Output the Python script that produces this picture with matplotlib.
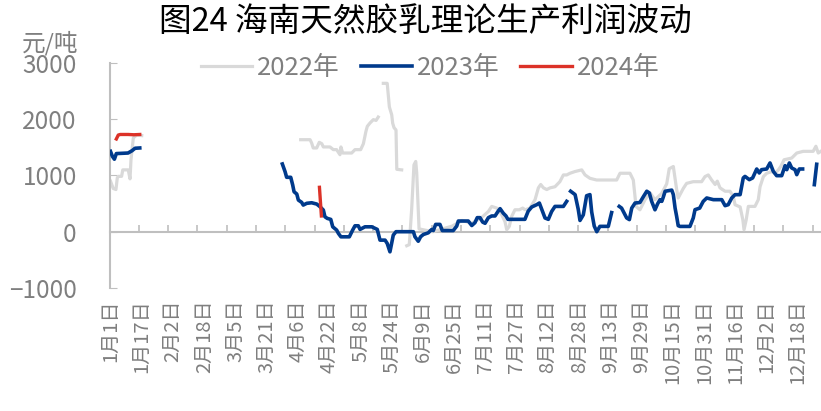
import numpy as np
import matplotlib
matplotlib.use("Agg")
import matplotlib.pyplot as plt

plt.rcParams['font.family'] = ['Noto Sans CJK SC', 'DejaVu Sans']

# x = day of year (0 = 1月1日), nan splits the line into pieces
nan = np.nan
days_2022 = [0, 1.4, 2.8, 3.5, 4, 5.7, 6.3, 9.1, 10, 10.5, 11.7, 13.4, 16, nan,
             97.4, 102.2, 103, 103.8, 105.6, 106.9, 108.2, 109, 112.4, 114.1, 115.8, 117.5, 118, 118.9,
             123.5, 125.2, 128.1, 129.5, 130.8, 131.5, 132.9, 134.6, 136, 137.1, nan,
             139.7, 141.7, 142.3, 142.8, 144, 144.5, 145.2, 146.2, 146.6, 149.1, nan,
             151.7, 153, 154.2, 155.4, 156.3, 156.8, 158, 165, 170, 175, 180, 185, 190,
             193.5, 195.2, 197.8, 199.5, 202, 202.9, 204.2, 205.4, 207.1, 209.3, 211.1, 212.3, 214.8,
             217.4, 219.1, 220.3, 221.7, 223.4, 225.1, 227.6, 230.1, 231.9, 233.6, 235.3, 237.8, 241.3,
             243, 245.5, 248.9, 259.2, 260.9, 266, 267.7, 269.1, 271.1, 273.7, 276.3, 278.8, 282.2,
             284.8, 286.1, 288.2, 289.9, 290.7, 293.3, 295, 298.4, 302.7, 304.4, 306.1, 307.8, 309.6,
             310.7, 312.1, 314.7, 317.2, 318.9, 319.8, 322.4, 323.8, 324.4, 325.5, 326.6, 330, 331.7,
             332.6, 334.3, 336, 338.6, 340.3, 342, 343.2, 344.9, 348.8, 351.4, 354.7, 359.8, 361.2,
             362.4, 363.7]
vals_2022 = [900, 770, 750, 960, 985, 985, 1100, 1100, 940, 1280, 1670, 1720, 1710, nan,
             1637, 1637, 1579, 1490, 1490, 1590, 1566, 1508, 1508, 1460, 1460, 1370, 1508, 1400,
             1400, 1460, 1460, 1566, 1785, 1874, 1935, 1994, 1980, 2040, nan,
             2640, 2640, 2400, 2220, 2080, 1930, 1850, 1810, 1110, 1100, nan,
             -250, -230, 390, 1190, 1250, 1050, 50, 0, 50, 100, 200, 150, 250,
             360, 450, 420, 360, 180, 35, 95, 270, 390, 390, 420, 390, 420,
             570, 780, 840, 780, 750, 780, 800, 890, 1010, 1010, 1040, 1070, 1100,
             1010, 950, 920, 920, 1040, 1040, 920, 450, 390, 570, 690, 570, 680,
             850, 1120, 1160, 750, 600, 770, 860, 890, 890, 980, 1010, 920, 840,
             900, 780, 720, 720, 630, 480, 440, 210, 35, 210, 450, 450, 570,
             800, 980, 1040, 1070, 1040, 1100, 1160, 1280, 1310, 1400, 1430, 1430, 1520,
             1400, 1430]

days_2023 = [0, 1, 2, 3, 9, 10, 11, 12.6, 15, nan,
             88, 89.4, 90.2, 92.3, 93.3, 94, 95.4, 96.2, 97.9, 98.7, 100.5, 103, 105.6, 107.3, 109,
             109.8, 111, 112.8, 113.8, 115.8, 116.7, 118, 122.3, 124, 125.2, 126.9, 127.8, 130.3,
             133.8, 136.6, 138, 140.6, 141.7, 143.1, 144.8, 146.2, 155.1, 155.9, 157.6, 158.8, 160.2,
             162.7, 164.5, 165.3, 166.5, 168.7, 169.9, 175.5, 177.3, 178.1, 183.2, 185, 186.6, 187.8,
             189.2, 190.6, 191.8, 193.5, 195.2, 196.9, 198.6, 199.5, 201.1, 202.5, 203.5, 212.2, 213.9,
             215.7, 218.2, 219.6, 222.5, 224.2, 225.9, 227.6, 231.9, 233.6, nan,
             235.6, 237.9, 239.5, 240.4, 242.1, 243.8, 245.5, 246.4, 247.7, 249, 250.6, 254.9, 256.6, nan,
             260.5, 261.7, 263.5, 264.3, 265.7, 266.9, 268.6, 271.1, 272.8, 274.6, 275.9, 277.1, 278.8,
             280.2, 281.4, 282.3, 283.1, 284, 287.4, 288.2, 289.1, 289.9, 290.7, 291.6, 296.7, 298.4,
             299.3, 301.7, 303.5, 305.3, 308.7, 313, 314.7, 316.3, 318.1, 319.8, 322.4, 324, 324.9,
             327.1, 328.8, 330.9, 332.2, 333.4, 336, 337.7, 339.4, 341.1, 343.7, 345.4, 346.3, 347.6,
             348.8, 350.5, 351.4, 352.7, 354.4, nan,
             360.4, 361.6]
vals_2023 = [1430, 1340, 1290, 1390, 1400, 1420, 1440, 1485, 1490, nan,
             1205, 1068, 968, 968, 831, 711, 670, 563, 522, 474, 505, 515, 492, 444, 385,
             266, 237, 219, 87, 29, -30, -91, -91, 29, 105, 105, 41, 87,
             87, 41, -150, -150, -209, -358, -61, 0, 0, -90, -170, -90, -50,
             -20, 40, 20, 130, 130, 20, 20, 100, 190, 190, 110, 160, 250,
             250, 170, 150, 250, 280, 280, 370, 410, 330, 280, 220, 220, 366,
             440, 480, 510, 244, 220, 360, 450, 450, 540, nan,
             720, 660, 400, 200, 300, 640, 660, 350, 100, 0, 95, 95, 340, nan,
             450, 420, 300, 245, 215, 420, 510, 520, 620, 720, 690, 540, 390,
             500, 570, 540, 620, 720, 740, 660, 420, 272, 107, 94, 94, 244,
             392, 420, 539, 600, 570, 570, 463, 481, 600, 659, 659, 956, 984,
             926, 956, 1116, 1045, 1104, 1116, 1223, 1073, 997, 997, 1175, 1104, 1223,
             1134, 1104, 1015, 1116, 1116, nan,
             837, 1200]

days_2024 = [3, 4, 5, 9, 12, 15, nan, 107, 108]
vals_2024 = [1650, 1720, 1730, 1730, 1725, 1730, nan, 790, 280]

label_days = list(range(0, 353, 16))
labels = ['1月1日', '1月17日', '2月2日', '2月18日', '3月5日', '3月21日', '4月6日', '4月22日',
          '5月8日', '5月24日', '6月9日', '6月25日', '7月11日', '7月27日', '8月12日', '8月28日',
          '9月13日', '9月29日', '10月15日', '10月31日', '11月16日', '12月2日', '12月18日']
tick_bounds = [-0.5 + 15 * k for k in range(25)]

gray_txt = '#7f7f7f'
axis_col = '#bfbfbf'

fig = plt.figure(figsize=(8.21, 4.11), dpi=100)
ax = fig.add_axes([109.5 / 821, 1 - 287.9 / 411, 714.8 / 821, 224.8 / 411])

ax.plot(days_2022, vals_2022, color='#d9d9d9', lw=2.3, label='2022年', zorder=2)
ax.plot(days_2023, vals_2023, color='#003a8c', lw=2.6, label='2023年', zorder=3)
ax.plot(days_2024, vals_2024, color='#dc3228', lw=2.4, label='2024年', zorder=4)

ax.set_xlim(-0.5, 365.5)
ax.set_ylim(-1000, 3000)
ax.set_yticks([-1000, 0, 1000, 2000, 3000])
ax.tick_params(axis='y', direction='in', length=5, color=axis_col, labelsize=17.5,
               labelcolor=gray_txt, pad=23.5)
ax.set_xticks(label_days, labels, rotation=90)
ax.tick_params(axis='x', length=0, labelsize=14.5, labelcolor=gray_txt, pad=8)
for s in ['top', 'right', 'bottom']:
    ax.spines[s].set_visible(False)
ax.spines['left'].set_color(axis_col)
ax.spines['left'].set_linewidth(1.5)

# zero line with its own tick marks
sec = ax.secondary_xaxis(0.25)
sec.set_xticks(tick_bounds)
sec.tick_params(direction='in', length=5, color=axis_col, width=1.2, labelbottom=False)
sec.spines['bottom'].set_color(axis_col)
sec.spines['bottom'].set_linewidth(1.5)

fig.text(0.518, 1 - 22 / 411, '图24 海南天然胶乳理论生产利润波动', ha='center', va='center',
         fontsize=23.5, color='black')
fig.text(22 / 821, 1 - 43 / 411, '元/吨', ha='left', va='center', fontsize=17, color=gray_txt)

fig.legend(loc='center', bbox_to_anchor=(0.524, 1 - 68 / 411), ncol=3, frameon=False,
           fontsize=18.5, labelcolor=gray_txt, handlelength=2.0, handletextpad=0.2,
           columnspacing=0.8)

fig.savefig('out.png', dpi=100)
